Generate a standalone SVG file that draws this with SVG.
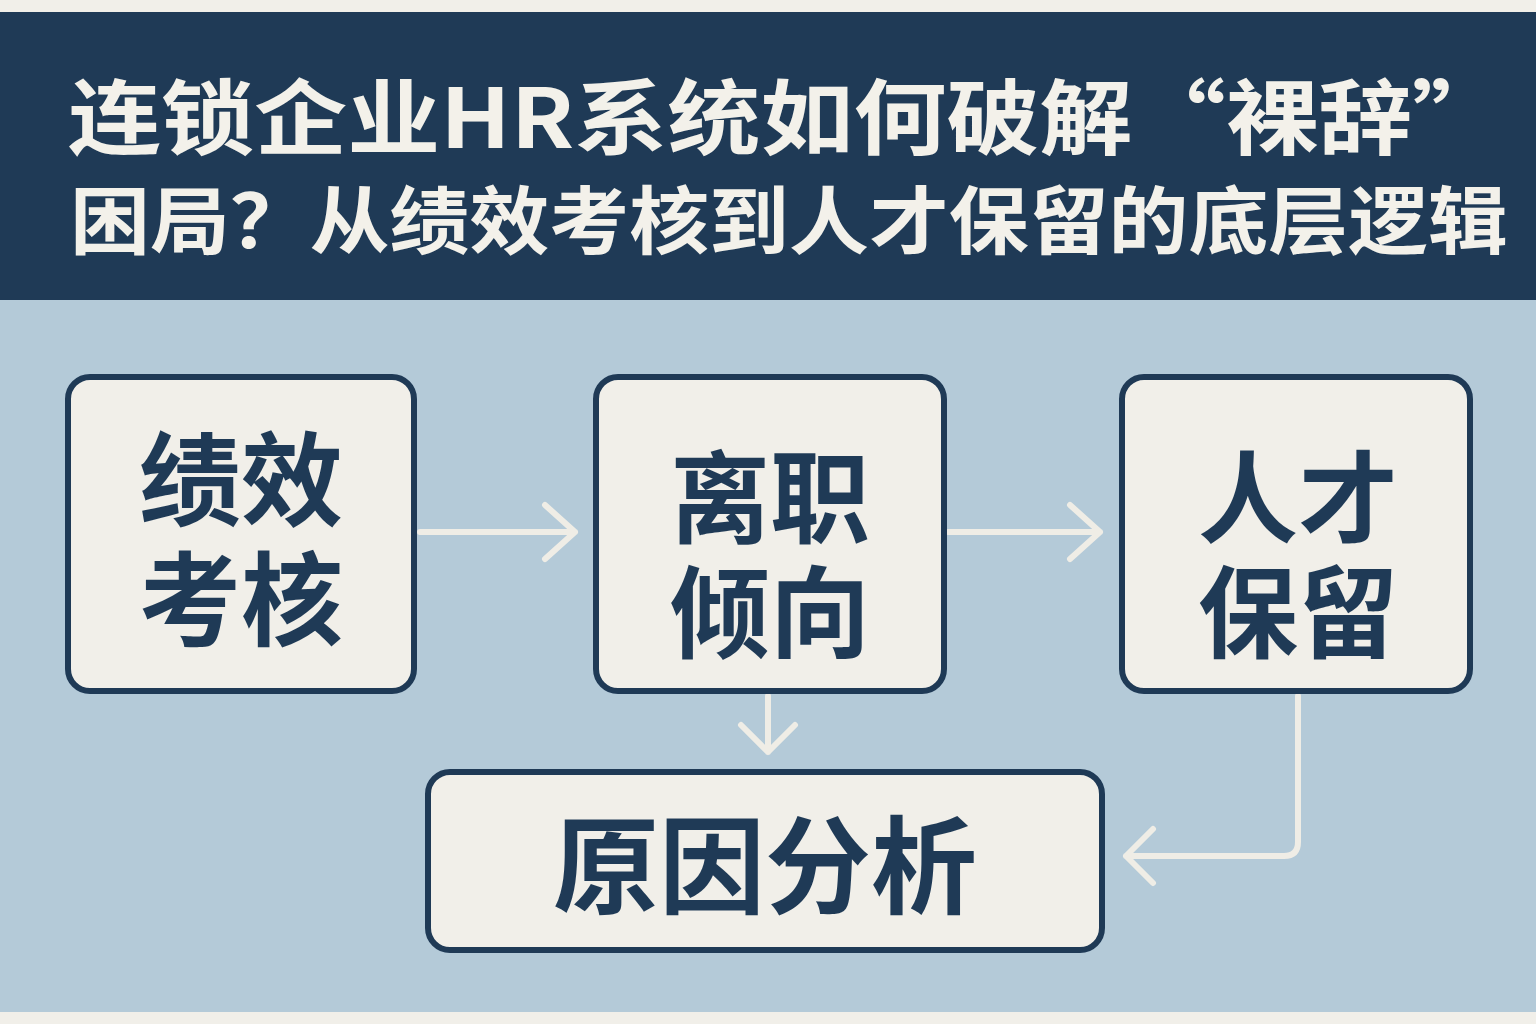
<svg xmlns="http://www.w3.org/2000/svg" width="1536" height="1024" viewBox="0 0 1536 1024">
<defs>
<style>
.t{font-family:"Noto Sans CJK SC","Noto Sans",sans-serif;font-weight:700}
.h{fill:#f3f1ea}
.b{fill:#f1efe9;stroke:#1f3a56;stroke-width:6}
.n{fill:#1f3a56;text-anchor:middle}
.c{fill:none;stroke:#efede6;stroke-width:6;stroke-linecap:round;stroke-linejoin:round}
</style>
</defs>
<rect width="1536" height="1024" fill="#f1efe9"/>
<rect y="12" width="1536" height="288" fill="#1f3a56"/>
<rect y="300" width="1536" height="712" fill="#b4cad8"/>
<g id="title">
<text class="t h" x="68" y="148" font-size="82" textLength="1437" lengthAdjust="spacingAndGlyphs">连锁企业HR系统如何破解“裸辞”</text>
<text class="t h" x="70" y="248" font-size="74" textLength="1438" lengthAdjust="spacingAndGlyphs">困局？从绩效考核到人才保留的底层逻辑</text>
</g>
<g id="connectors">
<path class="c" d="M420 532H575M545 505L575 532L545 559"/>
<path class="c" d="M948 532H1100M1070 505L1100 532L1070 559"/>
<path class="c" d="M768 696V752M741 725L768 752L795 725"/>
<path class="c" d="M1298 696V842Q1298 856 1284 856H1126M1153 829L1126 856L1153 883"/>
</g>
<g id="n1"><rect class="b" x="68" y="377" width="346" height="314" rx="22"/>
<text class="t n" x="241" y="518" font-size="102">绩效</text><text class="t n" x="241" y="638" font-size="102">考核</text></g>
<g id="n2"><rect class="b" x="596" y="377" width="348" height="314" rx="22"/>
<text class="t n" x="770" y="535" font-size="100">离职</text><text class="t n" x="770" y="650" font-size="100">倾向</text></g>
<g id="n3"><rect class="b" x="1122" y="377" width="348" height="314" rx="22"/>
<text class="t n" x="1298" y="535" font-size="100">人才</text><text class="t n" x="1298" y="650" font-size="100">保留</text></g>
<g id="n4"><rect class="b" x="428" y="772" width="674" height="178" rx="22"/>
<text class="t n" x="765" y="905" font-size="106">原因分析</text></g>
</svg>
